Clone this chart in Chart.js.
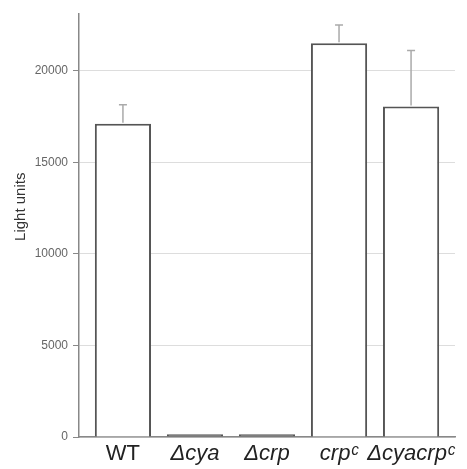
<!DOCTYPE html>
<html>
<head>
<meta charset="utf-8">
<script src="https://cdn.jsdelivr.net/npm/chart.js@4.4.1/dist/chart.umd.min.js"></script>
<style>
  html, body { margin: 0; padding: 0; background: #fff; }
  #wrap { width: 467px; height: 469px; }
</style>
</head>
<body>
<div id="wrap"><canvas id="c" width="467" height="469"></canvas></div>
<script>
// ---- data ----
const categories = ['WT', '\u0394cya', '\u0394crp', 'crp\u1D9C', '\u0394cyacrp\u1D9C'];
const italicLabels = [false, true, true, true, true];
const lightUnits = [17100, 150, 150, 21500, 18050];
const errorUp = [1050, 0, 0, 1000, 3050];
const yTicks = [0, 5000, 10000, 15000, 20000];
const yTitle = 'Light units';

const positions = categories.map((c, i) => i + 1);
const FONT = "'Liberation Sans', Arial, sans-serif";

const errorBarPlugin = {
  id: 'errorBars',
  afterDatasetsDraw(chart) {
    const ctx = chart.ctx;
    const xs = chart.scales.x, ys = chart.scales.y;
    ctx.save();
    ctx.strokeStyle = '#aaa';
    ctx.lineWidth = 1.5;
    lightUnits.forEach((v, i) => {
      if (!errorUp[i]) return;
      const x = xs.getPixelForValue(positions[i]);
      const y0 = ys.getPixelForValue(v);
      const y1 = ys.getPixelForValue(v + errorUp[i]);
      ctx.beginPath();
      ctx.moveTo(x, y0 - 1);
      ctx.lineTo(x, y1);
      ctx.moveTo(x - 4, y1);
      ctx.lineTo(x + 4, y1);
      ctx.stroke();
    });
    ctx.restore();
  }
};

new Chart(document.getElementById('c'), {
  type: 'bar',
  data: {
    datasets: [{
      data: positions.map((p, i) => ({ x: p, y: lightUnits[i] })),
      backgroundColor: (ctx) => (lightUnits[ctx.dataIndex] < 1000 ? '#555555' : '#ffffff'),
      borderColor: '#555555',
      borderWidth: 2,
      categoryPercentage: 1,
      barPercentage: 0.78
    }]
  },
  options: {
    responsive: false,
    animation: false,
    layout: { padding: { top: 14, right: 12, left: 0, bottom: 0 } },
    plugins: { legend: { display: false }, tooltip: { enabled: false } },
    scales: {
      x: {
        type: 'linear',
        offset: false,
        min: 0.39,
        max: 5.61,
        grid: { display: false, drawTicks: false, offset: false },
        border: { display: true, color: '#888', width: 1.5 },
        afterBuildTicks(scale) { scale.ticks = positions.map(v => ({ value: v })); },
        afterFit(scale) { scale.height = 32; },
        ticks: {
          autoSkip: false,
          maxRotation: 0,
          padding: 4,
          color: '#222',
          font: (ctx) => ({ family: FONT, size: 22, style: italicLabels[ctx.index] ? 'italic' : 'normal' }),
          callback: (v, i) => categories[i]
        }
      },
      y: {
        min: 0,
        max: 23100,
        afterBuildTicks(scale) { scale.ticks = yTicks.map(v => ({ value: v })); },
        afterFit(scale) { scale.width = 79; },
        grid: { color: '#dddddd', lineWidth: 1, tickColor: '#888', tickLength: 6 },
        border: { display: true, color: '#888', width: 1.5 },
        ticks: {
          color: '#666', padding: 5, font: { family: FONT, size: 12 },
          callback: (v) => String(v)
        },
        title: {
          display: true,
          text: '\u00A0'.repeat(9) + yTitle,
          color: '#333',
          font: { family: FONT, size: 15 },
          padding: { top: 12, bottom: 0 }
        }
      }
    }
  },
  plugins: [errorBarPlugin]
});
</script>
</body>
</html>
